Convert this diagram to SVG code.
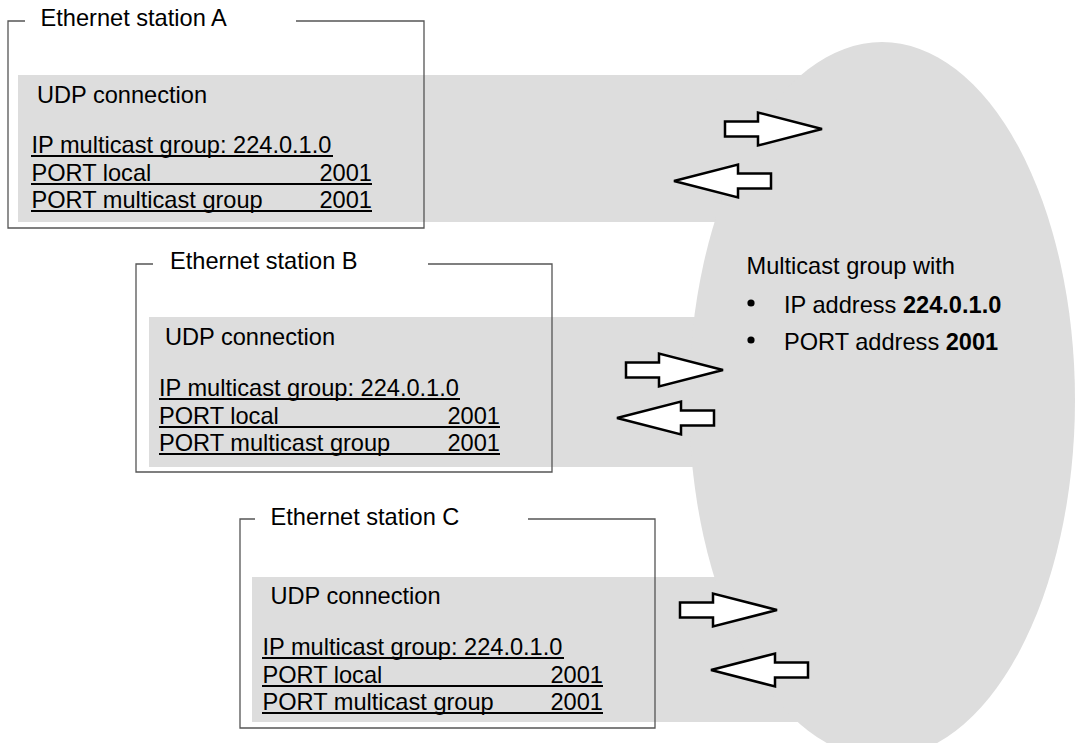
<svg xmlns="http://www.w3.org/2000/svg" width="1076" height="743" viewBox="0 0 1076 743">
<style>
  .bg { fill: #dddddd; stroke: none; }
  .frame { fill: none; stroke: #555555; stroke-width: 1.3; }
  .t { font-family: "Liberation Sans", Arial, Helvetica, sans-serif; font-size: 23.6px; fill: #000000; }
  .b { font-weight: bold; }
  .ul { stroke: #000000; stroke-width: 2; }
  .arrow { fill: #ffffff; stroke: #000000; stroke-width: 2.5; stroke-linejoin: miter; }
</style>
<rect width="1076" height="743" fill="#ffffff"/>

<!-- gray bands and multicast ellipse -->
<g id="backgrounds">
  <rect class="bg" x="18" y="75" width="860" height="147"/>
  <rect class="bg" x="149" y="317" width="729" height="150"/>
  <rect class="bg" x="252" y="577" width="626" height="145"/>
</g>

<g id="multicast-group">
  <ellipse class="bg" cx="882" cy="400" rx="193" ry="358"/>
  <text class="t" x="746.5" y="274">Multicast group with</text>
  <circle cx="751" cy="303" r="3.6" fill="#000"/>
  <text class="t" x="784" y="313">IP address <tspan class="b">224.0.1.0</tspan></text>
  <circle cx="751" cy="340" r="3.6" fill="#000"/>
  <text class="t" x="784" y="350">PORT address <tspan class="b">2001</tspan></text>
</g>

<g id="station-a">
  <polyline class="frame" points="25,21 8,21 8,228 424,228 424,21 296,21"/>
  <text class="t" x="40.5" y="26">Ethernet station A</text>
  <text class="t" x="37" y="103">UDP connection</text>
  <text class="t" x="31.5" y="153">IP multicast group: 224.0.1.0</text>
  <line class="ul" x1="31" y1="156" x2="333" y2="156"/>
  <text class="t" x="31.5" y="181">PORT local</text>
  <text class="t" x="372" y="181" text-anchor="end">2001</text>
  <line class="ul" x1="31" y1="184" x2="372" y2="184"/>
  <text class="t" x="31.5" y="208">PORT multicast group</text>
  <text class="t" x="372" y="208" text-anchor="end">2001</text>
  <line class="ul" x1="31" y1="211" x2="372" y2="211"/>
</g>

<g id="station-b">
  <polyline class="frame" points="153,264 136,264 136,472 552,472 552,264 428,264"/>
  <text class="t" x="170" y="269">Ethernet station B</text>
  <text class="t" x="165" y="345">UDP connection</text>
  <text class="t" x="159" y="396">IP multicast group: 224.0.1.0</text>
  <line class="ul" x1="159" y1="399" x2="460" y2="399"/>
  <text class="t" x="159" y="424">PORT local</text>
  <text class="t" x="500" y="424" text-anchor="end">2001</text>
  <line class="ul" x1="159" y1="427" x2="500" y2="427"/>
  <text class="t" x="159" y="451">PORT multicast group</text>
  <text class="t" x="500" y="451" text-anchor="end">2001</text>
  <line class="ul" x1="159" y1="454" x2="500" y2="454"/>
</g>

<g id="station-c">
  <polyline class="frame" points="255,519 240,519 240,728 655,728 655,519 528,519"/>
  <text class="t" x="270.5" y="525">Ethernet station C</text>
  <text class="t" x="270.5" y="604">UDP connection</text>
  <text class="t" x="262.5" y="655">IP multicast group: 224.0.1.0</text>
  <line class="ul" x1="262" y1="658" x2="564" y2="658"/>
  <text class="t" x="262.5" y="683">PORT local</text>
  <text class="t" x="603" y="683" text-anchor="end">2001</text>
  <line class="ul" x1="262" y1="686" x2="603" y2="686"/>
  <text class="t" x="262.5" y="710">PORT multicast group</text>
  <text class="t" x="603" y="710" text-anchor="end">2001</text>
  <line class="ul" x1="262" y1="713" x2="603" y2="713"/>
</g>

<g id="connectors">
  <polygon class="arrow" points="725,121.5 758,121.5 758,112.5 822,129 758,145.5 758,136.5 725,136.5"/>
  <polygon class="arrow" points="771,173.5 738,173.5 738,164.5 674,181 738,197.5 738,188.5 771,188.5"/>
  <polygon class="arrow" points="626,362.5 659,362.5 659,353.5 723,370 659,386.5 659,377.5 626,377.5"/>
  <polygon class="arrow" points="714,410.5 681,410.5 681,401.5 617,418 681,434.5 681,425.5 714,425.5"/>
  <polygon class="arrow" points="680,602.5 713,602.5 713,593.5 777,610 713,626.5 713,617.5 680,617.5"/>
  <polygon class="arrow" points="808,662.5 775,662.5 775,653.5 711,670 775,686.5 775,677.5 808,677.5"/>
</g>
</svg>
